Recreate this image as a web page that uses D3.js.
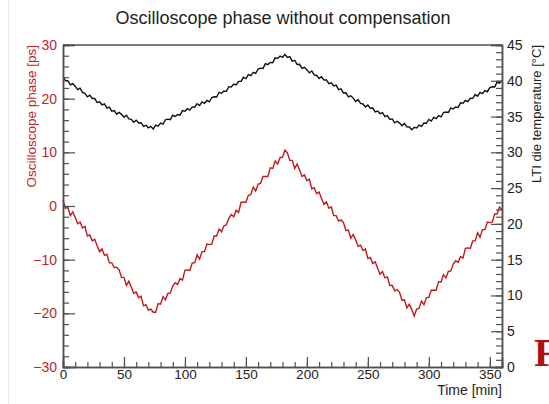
<!DOCTYPE html>
<html>
<head>
<meta charset="utf-8">
<script src="https://cdn.jsdelivr.net/npm/d3@7"></script>
<style>
  body { margin: 0; background: #fff; }
  text { font-family: "Liberation Sans", Arial, Helvetica, sans-serif; }
</style>
</head>
<body>
<script>
// sample times [min], one reading every 2 minutes
const time = d3.range(0, 361, 2);

// oscilloscope phase [ps] (left axis)
const phase = [
  1.1, -0.4, -0.3, -1.8, -1.1, -2.1, -3.3, -3.0, -4.1, -3.8,
  -5.6, -5.4, -6.5, -6.2, -7.4, -8.5, -8.0, -9.2, -9.0, -10.6,
  -10.6, -11.5, -11.4, -11.9, -13.3, -13.3, -14.8, -14.0, -15.1, -16.3,
  -16.0, -17.1, -16.8, -18.6, -18.4, -19.4, -19.2, -19.8, -19.8, -18.2,
  -18.3, -16.9, -17.5, -16.3, -16.2, -14.9, -14.3, -14.6, -13.5, -13.8,
  -12.0, -11.9, -12.0, -10.6, -10.6, -9.1, -9.9, -8.5, -8.5, -7.1,
  -7.2, -7.1, -5.6, -5.6, -4.3, -4.8, -3.7, -3.5, -2.3, -1.6,
  -2.0, -0.8, -1.2, 0.7, 0.7, 0.7, 2.0, 2.1, 3.5, 2.8,
  4.1, 4.2, 5.5, 5.5, 5.5, 7.1, 7.0, 8.4, 7.8, 9.0,
  9.1, 10.4, 9.9, 8.5, 8.5, 7.0, 7.8, 6.7, 5.5, 5.8,
  4.7, 5.0, 3.2, 3.4, 2.3, 2.6, 1.4, 0.3, 0.8, -0.4,
  -0.2, -1.8, -1.8, -2.8, -2.6, -3.1, -4.6, -4.5, -6.0, -5.3,
  -6.3, -7.5, -7.3, -8.3, -8.0, -9.8, -9.6, -10.7, -10.4, -11.6,
  -12.7, -12.2, -13.4, -13.2, -14.8, -14.8, -15.8, -15.6, -16.1, -17.6,
  -17.5, -19.0, -18.3, -19.3, -20.5, -19.2, -19.1, -17.7, -18.4, -17.1,
  -17.0, -15.7, -15.7, -15.7, -14.1, -14.2, -12.8, -13.4, -12.2, -12.1,
  -10.8, -10.2, -10.5, -9.4, -9.7, -7.9, -7.8, -7.9, -6.5, -6.5,
  -5.0, -5.8, -4.4, -4.4, -3.0, -3.1, -3.0, -1.5, -1.5, -0.2,
  -0.7
];

// LTI die temperature [°C] (right axis)
const temperature = [
  40.6, 40.01, 40.02, 39.43, 39.59, 39.25, 38.76, 38.97, 38.38, 38.24,
  37.75, 37.99, 37.53, 37.52, 36.96, 37.05, 36.64, 36.78, 36.17, 36.31,
  35.75, 35.84, 35.33, 35.57, 35.31, 34.9, 35.19, 34.68, 34.62, 34.21,
  34.5, 34.1, 34.14, 33.64, 33.78, 33.43, 33.63, 33.25, 33.8, 33.65,
  34.1, 33.95, 34.55, 34.64, 34.56, 35.18, 35.01, 35.28, 35.2, 35.83,
  35.75, 36.1, 35.9, 36.35, 36.3, 36.8, 36.55, 37.05, 36.85, 37.25,
  37.05, 37.66, 37.77, 37.73, 38.39, 38.25, 38.56, 38.52, 39.18, 39.14,
  39.55, 39.41, 39.92, 39.93, 40.49, 40.3, 40.86, 40.72, 41.18, 41.04,
  41.65, 41.76, 41.73, 42.39, 42.26, 42.57, 42.53, 43.2, 43.12, 43.46,
  43.26, 43.7, 43.27, 43.38, 42.75, 42.87, 42.28, 42.3, 41.72, 41.88,
  41.55, 41.11, 41.37, 40.83, 40.74, 40.3, 40.56, 40.12, 40.13, 39.59,
  39.7, 39.27, 39.39, 38.76, 38.88, 38.3, 38.32, 37.74, 37.91, 37.58,
  37.1, 37.37, 36.84, 36.76, 36.33, 36.6, 36.17, 36.19, 35.66, 35.78,
  35.4, 35.56, 34.98, 35.14, 34.6, 34.67, 34.13, 34.34, 34.09, 33.72,
  34.04, 33.57, 33.55, 33.17, 33.5, 33.42, 33.8, 33.62, 34.09, 34.06,
  34.59, 34.36, 34.88, 34.71, 35.13, 34.95, 35.54, 35.63, 35.57, 36.21,
  36.05, 36.34, 36.28, 36.92, 36.86, 37.25, 37.08, 37.56, 37.54, 38.07,
  37.85, 38.38, 38.21, 38.64, 38.47, 39.05, 39.17, 39.14, 39.81, 39.68,
  40.0
];

const xTicks = [0, 50, 100, 150, 200, 250, 300, 350];
const leftTicks = [-30, -20, -10, 0, 10, 20, 30];
const rightTicks = [0, 5, 10, 15, 20, 25, 30, 35, 40, 45];

const W = 549, H = 404;
const plot = {left: 63, right: 502, top: 45, bottom: 367};
const red = "#c0181c", labelRed = "#b8262b", axisCol = "#505050";

const svg = d3.select("body").append("svg")
    .attr("width", W)
    .attr("height", H);

// faint page edge on the left
svg.append("line")
    .attr("x1", 8.5).attr("x2", 8.5)
    .attr("y1", 0).attr("y2", H)
    .attr("stroke", "#e8e8e8");

const x = d3.scaleLinear().domain([0, 360]).range([plot.left, plot.right]);
const yL = d3.scaleLinear().domain([-30, 30]).range([plot.bottom, plot.top]);
const yR = d3.scaleLinear().domain([0, 45]).range([plot.bottom, plot.top]);

// frame top
svg.append("line")
    .attr("x1", plot.left).attr("x2", plot.right)
    .attr("y1", plot.top).attr("y2", plot.top)
    .attr("stroke", axisCol).attr("stroke-width", 1.5);

// curves
const tempLine = d3.line()
    .x((d, i) => x(time[i]))
    .y(d => yR(d));
const phaseLine = d3.line()
    .x((d, i) => x(time[i]))
    .y(d => yL(d));

svg.append("path")
    .datum(temperature)
    .attr("fill", "none")
    .attr("stroke", "#111")
    .attr("stroke-width", 1.4)
    .attr("d", tempLine);

svg.append("path")
    .datum(phase)
    .attr("fill", "none")
    .attr("stroke", red)
    .attr("stroke-width", 1.4)
    .attr("d", phaseLine);

// axis helper: major + minor ticks pointing into the frame
function styleAxis(g, col, size) {
  g.select(".domain").attr("stroke", axisCol).attr("stroke-width", 1.5);
  g.selectAll(".tick line").attr("stroke", axisCol).attr("stroke-width", 1.2);
  g.selectAll(".tick text").attr("fill", col).style("font-size", size || "14px");
}

// bottom axis
svg.append("g")
    .attr("transform", `translate(0,${plot.bottom})`)
    .call(d3.axisBottom(x).tickValues(d3.range(0, 361, 10)).tickSize(-5).tickFormat(""))
    .call(g => styleAxis(g, "#222"));
svg.append("g")
    .attr("transform", `translate(0,${plot.bottom})`)
    .call(d3.axisBottom(x).tickValues(xTicks).tickSize(-10).tickPadding(2))
    .call(g => styleAxis(g, "#222", "13.5px"));

// left axis
svg.append("g")
    .attr("transform", `translate(${plot.left},0)`)
    .call(d3.axisLeft(yL).tickValues(d3.range(-30, 31, 2)).tickSize(-6).tickFormat(""))
    .call(g => styleAxis(g, labelRed));
svg.append("g")
    .attr("transform", `translate(${plot.left},0)`)
    .call(d3.axisLeft(yL).tickValues(leftTicks).tickSize(-12).tickPadding(6))
    .call(g => styleAxis(g, labelRed));

// right axis
svg.append("g")
    .attr("transform", `translate(${plot.right},0)`)
    .call(d3.axisRight(yR).tickValues(d3.range(0, 46, 1)).tickSize(-6).tickFormat(""))
    .call(g => styleAxis(g, "#222"));
svg.append("g")
    .attr("transform", `translate(${plot.right},0)`)
    .call(d3.axisRight(yR).tickValues(rightTicks).tickSize(-11).tickPadding(5))
    .call(g => styleAxis(g, "#222"));

// titles
svg.append("text")
    .attr("x", 283).attr("y", 24)
    .attr("text-anchor", "middle")
    .attr("fill", "#222")
    .style("font-size", "18px")
    .text("Oscilloscope phase without compensation");

svg.append("text")
    .attr("transform", `translate(36,${plot.top}) rotate(-90)`)
    .attr("text-anchor", "end")
    .attr("fill", labelRed)
    .style("font-size", "13.5px")
    .text("Oscilloscope phase [ps]");

svg.append("text")
    .attr("transform", `translate(541,${plot.top}) rotate(-90)`)
    .attr("text-anchor", "end")
    .attr("fill", "#222")
    .style("font-size", "13px")
    .text("LTI die temperature [°C]");

svg.append("text")
    .attr("x", plot.right).attr("y", 395)
    .attr("text-anchor", "end")
    .attr("fill", "#222")
    .style("font-size", "14px")
    .text("Time [min]");

// cropped heading letter from the surrounding page
svg.append("text")
    .attr("x", 534).attr("y", 366)
    .attr("fill", "#b01010")
    .style("font-family", "'Liberation Serif', 'Times New Roman', serif")
    .style("font-weight", "bold")
    .style("font-size", "40px")
    .text("F");
</script>
</body>
</html>
